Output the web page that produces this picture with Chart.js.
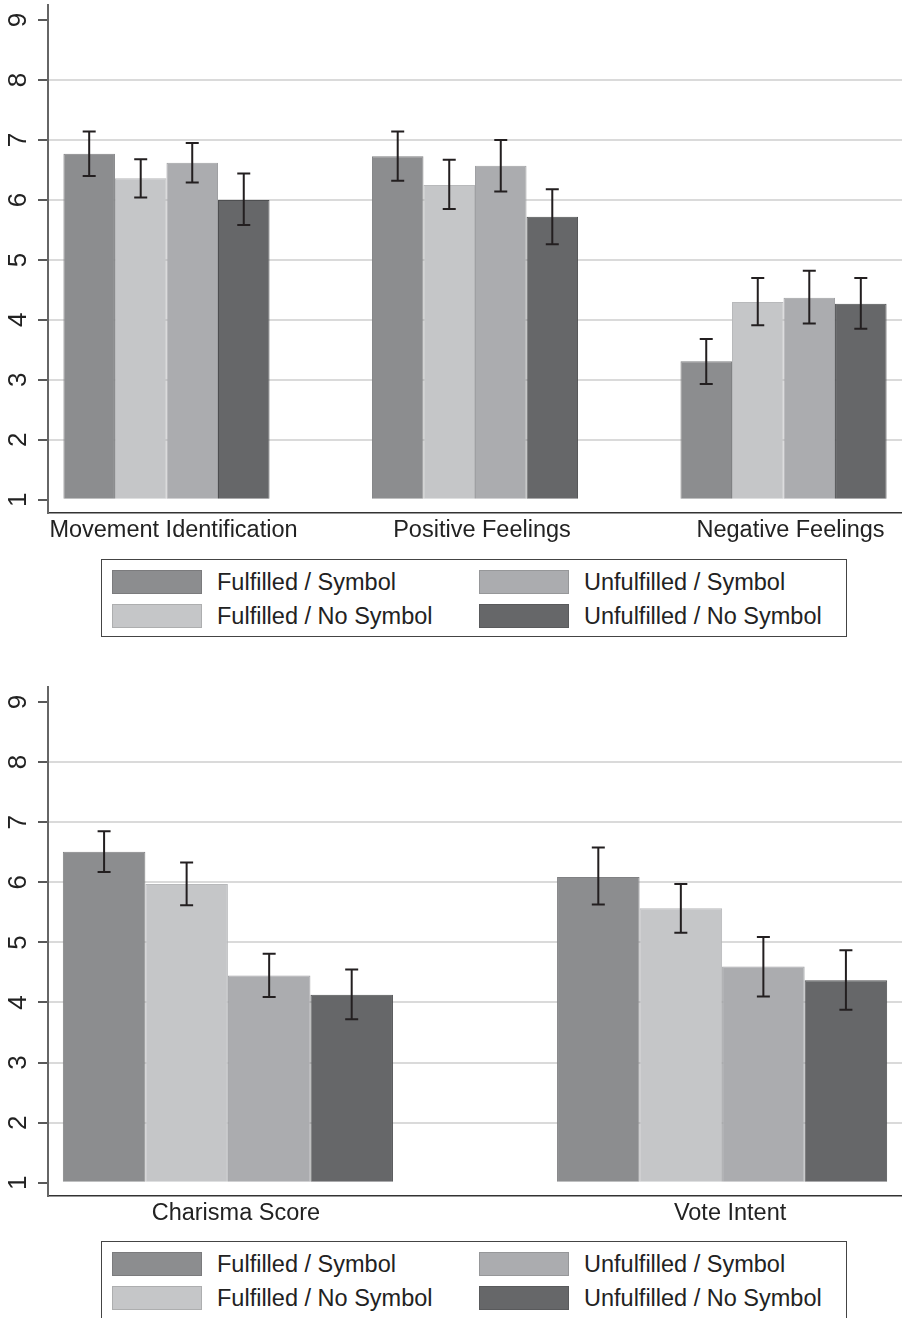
<!DOCTYPE html>
<html>
<head>
<meta charset="utf-8">
<script src="https://cdn.jsdelivr.net/npm/chart.js@4.4.1/dist/chart.umd.min.js"></script>
<style>
  body { margin: 0; background: #fff; width: 902px; height: 1318px; position: relative; overflow: hidden; font-family: "Liberation Sans", Arial, sans-serif; }
  .chartBox { position: absolute; left: 0; width: 902px; }
  .legend { position: absolute; left: 101px; width: 744px; height: 76px; border: 1.5px solid #444; background: #fff; }
  .legend .sw { position: absolute; width: 90px; height: 24px; box-sizing: border-box; border: 1px solid rgba(0,0,0,0.12); }
  .legend .lb { position: absolute; font-size: 23.5px; line-height: 24px; color: #222; white-space: nowrap; }
</style>
</head>
<body>
<div class="chartBox" style="top:0;height:550px"><canvas id="topChart"></canvas></div>
<div class="legend" id="topLegend" style="top:559px"></div>
<div class="chartBox" style="top:682px;height:552px"><canvas id="bottomChart"></canvas></div>
<div class="legend" id="bottomLegend" style="top:1241px"></div>

<script>
// series (same four conditions in both panels)
const seriesNames = ['Fulfilled / Symbol', 'Fulfilled / No Symbol', 'Unfulfilled / Symbol', 'Unfulfilled / No Symbol'];
const seriesColors = ['#8c8d8f', '#c5c6c8', '#abacaf', '#666769'];
const seriesBorders = ['#808183', '#b8b9bb', '#9fa0a3', '#4e4f51'];

const yTicks = [1, 2, 3, 4, 5, 6, 7, 8, 9];

// top panel
const topCategories = ['Movement Identification', 'Positive Feelings', 'Negative Feelings'];
const topFulfilledSymbol = [6.77, 6.73, 3.31];
const topFulfilledSymbolLow = [6.40, 6.32, 2.93];
const topFulfilledSymbolHigh = [7.14, 7.14, 3.68];
const topFulfilledNoSymbol = [6.36, 6.25, 4.30];
const topFulfilledNoSymbolLow = [6.04, 5.85, 3.91];
const topFulfilledNoSymbolHigh = [6.68, 6.67, 4.70];
const topUnfulfilledSymbol = [6.62, 6.57, 4.37];
const topUnfulfilledSymbolLow = [6.29, 6.14, 3.94];
const topUnfulfilledSymbolHigh = [6.95, 7.00, 4.82];
const topUnfulfilledNoSymbol = [6.00, 5.72, 4.27];
const topUnfulfilledNoSymbolLow = [5.58, 5.26, 3.85];
const topUnfulfilledNoSymbolHigh = [6.44, 6.18, 4.70];

// bottom panel
const bottomCategories = ['Charisma Score', 'Vote Intent'];
const bottomFulfilledSymbol = [6.51, 6.09];
const bottomFulfilledSymbolLow = [6.17, 5.63];
const bottomFulfilledSymbolHigh = [6.85, 6.58];
const bottomFulfilledNoSymbol = [5.97, 5.57];
const bottomFulfilledNoSymbolLow = [5.62, 5.16];
const bottomFulfilledNoSymbolHigh = [6.33, 5.97];
const bottomUnfulfilledSymbol = [4.45, 4.60];
const bottomUnfulfilledSymbolLow = [4.09, 4.10];
const bottomUnfulfilledSymbolHigh = [4.81, 5.09];
const bottomUnfulfilledNoSymbol = [4.13, 4.37];
const bottomUnfulfilledNoSymbolLow = [3.72, 3.88];
const bottomUnfulfilledNoSymbolHigh = [4.55, 4.87];

const FONT = '"Liberation Sans", Arial, sans-serif';

// draws the capped error bars on top of each bar
const errorBars = {
    id: 'errorBars',
    afterDatasetsDraw(chart) {
        const ctx = chart.ctx;
        const yScale = chart.scales.y;
        ctx.save();
        ctx.strokeStyle = '#231f20';
        ctx.lineWidth = 2;
        chart.data.datasets.forEach((ds, i) => {
            const meta = chart.getDatasetMeta(i);
            meta.data.forEach((bar, j) => {
                const x = bar.x;
                const lo = yScale.getPixelForValue(ds.errLow[j]);
                const hi = yScale.getPixelForValue(ds.errHigh[j]);
                ctx.beginPath();
                ctx.moveTo(x, lo); ctx.lineTo(x, hi);
                ctx.moveTo(x - 6.5, lo); ctx.lineTo(x + 6.5, lo);
                ctx.moveTo(x - 6.5, hi); ctx.lineTo(x + 6.5, hi);
                ctx.stroke();
            });
        });
        ctx.restore();
    }
};

function makeDatasets(means, lows, highs) {
    return means.map((vals, i) => ({
        label: seriesNames[i],
        data: vals.map((v, j) => ({ x: j, y: v })),
        errLow: lows[i],
        errHigh: highs[i],
        base: 1,
        backgroundColor: seriesColors[i],
        borderColor: seriesBorders[i],
        borderWidth: 1,
        categoryPercentage: 0.668,
        barPercentage: 1.0
    }));
}

function makeChart(canvasId, categories, datasets, xPad, xHeight, labelShift) {
    const n = categories.length;
    return new Chart(document.getElementById(canvasId), {
        type: 'bar',
        data: { datasets: datasets },
        options: {
            responsive: true,
            maintainAspectRatio: false,
            animation: false,
            events: [],
            layout: { padding: { top: 5, right: 0, left: 0, bottom: 0 } },
            plugins: { legend: { display: false }, tooltip: { enabled: false } },
            scales: {
                x: {
                    type: 'linear',
                    offset: false,
                    min: -xPad,
                    max: n - 1 + xPad,
                    afterBuildTicks: scale => { scale.ticks = categories.map((c, i) => ({ value: i })); },
                    afterFit: scale => { scale.height = xHeight; scale.paddingLeft = 0; scale.paddingRight = 0; },
                    grid: { display: false, drawTicks: false },
                    border: { display: true, color: '#333', width: 1.5 },
                    ticks: {
                        padding: 3,
                        labelOffset: labelShift,
                        color: '#222',
                        font: { family: FONT, size: 23.5 },
                        maxRotation: 0,
                        autoSkip: false,
                        callback: v => categories[Math.round(v)]
                    }
                },
                y: {
                    min: 0.78,
                    max: 9.25,
                    afterBuildTicks: scale => { scale.ticks = yTicks.map(v => ({ value: v })); },
                    afterFit: scale => { scale.width = 48; scale.paddingTop = 0; scale.paddingBottom = 0; },
                    grid: {
                        color: c => (c.tick && (c.tick.value === 1 || c.tick.value === 9)) ? 'rgba(0,0,0,0)' : '#dadada',
                        lineWidth: 2,
                        tickColor: '#222',
                        tickWidth: 1.5,
                        tickLength: 10
                    },
                    border: { display: true, color: '#666', width: 2 },
                    ticks: {
                        padding: 12,
                        crossAlign: 'center',
                        minRotation: 90,
                        maxRotation: 90,
                        color: '#222',
                        font: { family: FONT, size: 26 }
                    }
                }
            }
        },
        plugins: [errorBars]
    });
}

function makeLegend(id) {
    const box = document.getElementById(id);
    // column-major: left column fulfilled, right column unfulfilled
    const slots = [[10, 10], [10, 44], [377, 10], [377, 44]];
    seriesNames.forEach((name, i) => {
        const sw = document.createElement('div');
        sw.className = 'sw';
        sw.style.left = slots[i][0] + 'px';
        sw.style.top = slots[i][1] + 'px';
        sw.style.background = seriesColors[i];
        box.appendChild(sw);
        const lb = document.createElement('div');
        lb.className = 'lb';
        lb.style.left = (slots[i][0] + 105) + 'px';
        lb.style.top = slots[i][1] + 'px';
        lb.innerText = name;
        box.appendChild(lb);
    });
}

makeChart('topChart', topCategories, makeDatasets(
    [topFulfilledSymbol, topFulfilledNoSymbol, topUnfulfilledSymbol, topUnfulfilledNoSymbol],
    [topFulfilledSymbolLow, topFulfilledNoSymbolLow, topUnfulfilledSymbolLow, topUnfulfilledNoSymbolLow],
    [topFulfilledSymbolHigh, topFulfilledNoSymbolHigh, topUnfulfilledSymbolHigh, topUnfulfilledNoSymbolHigh]
), 0.384, 37, 7);

makeChart('bottomChart', bottomCategories, makeDatasets(
    [bottomFulfilledSymbol, bottomFulfilledNoSymbol, bottomUnfulfilledSymbol, bottomUnfulfilledNoSymbol],
    [bottomFulfilledSymbolLow, bottomFulfilledNoSymbolLow, bottomUnfulfilledSymbolLow, bottomUnfulfilledNoSymbolLow],
    [bottomFulfilledSymbolHigh, bottomFulfilledNoSymbolHigh, bottomUnfulfilledSymbolHigh, bottomUnfulfilledNoSymbolHigh]
), 0.364, 38, 8);

makeLegend('topLegend');
makeLegend('bottomLegend');
</script>
</body>
</html>
